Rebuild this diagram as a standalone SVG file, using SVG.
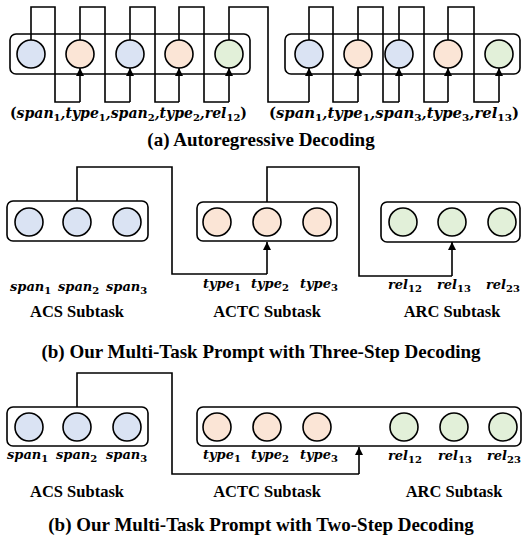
<svg xmlns="http://www.w3.org/2000/svg" width="522" height="540" viewBox="0 0 522 540">
<defs>
<marker id="arr" viewBox="0 0 8 8" refX="8" refY="4" markerWidth="8" markerHeight="8" orient="auto" markerUnits="userSpaceOnUse">
<path d="M0,0 L8,4 L0,8 z" fill="#000"/>
</marker>
<style>
.box{fill:#fff;stroke:#000;stroke-width:1.6}
.blue{fill:#dae3f3;stroke:#000;stroke-width:1.6}
.org{fill:#fbe5d6;stroke:#000;stroke-width:1.6}
.grn{fill:#e2f0d9;stroke:#000;stroke-width:1.6}
.w{fill:none;stroke:#000;stroke-width:1.6}
.wa{fill:none;stroke:#000;stroke-width:1.6;marker-end:url(#arr)}
.m{font-family:"DejaVu Serif","Liberation Serif",serif;font-weight:bold;font-style:italic;font-size:14px}
.l{font-family:"DejaVu Serif","Liberation Serif",serif;font-weight:bold;font-style:italic;font-size:13px}
.p{font-style:normal}
.s{font-size:10px;font-style:normal}
.t{font-family:"Liberation Serif","Times New Roman",serif;font-weight:bold;font-size:16.5px;text-anchor:middle}
.h{font-family:"Liberation Serif","Times New Roman",serif;font-weight:bold;font-size:19px;text-anchor:middle}
</style>
</defs>
<rect width="522" height="540" fill="#fff"/>

<g id="connectors-a">
<path class="w" d="M31,40 V7 H55 V102 H80"/>
<path class="wa" d="M80,102 V68"/>
<path class="w" d="M80,40 V7 H105 V102 H130"/>
<path class="wa" d="M130,102 V68"/>
<path class="w" d="M130,40 V7 H155 V102 H179"/>
<path class="wa" d="M179,102 V68"/>
<path class="w" d="M179,40 V7 H204 V102 H229"/>
<path class="wa" d="M229,102 V68"/>
<path class="w" d="M229,40 V7 H268 V102 H309"/>
<path class="wa" d="M309,102 V68"/>
<path class="w" d="M309,40 V7 H333 V102 H358"/>
<path class="wa" d="M358,102 V68"/>
<path class="w" d="M358,40 V7 H383 V102 H399"/>
<path class="wa" d="M399,102 V68"/>
<path class="w" d="M399,40 V7 H424 V102 H448"/>
<path class="wa" d="M448,102 V68"/>
<path class="w" d="M448,40 V7 H474 V102 H499"/>
<path class="wa" d="M499,102 V68"/>
</g>

<g id="seq1">
<rect x="10" y="34" width="240" height="40" rx="6" fill="none" stroke="#000" stroke-width="1.6"/>
<circle class="blue" cx="31" cy="54" r="14"/>
<circle class="org" cx="80" cy="54" r="14"/>
<circle class="blue" cx="130" cy="54" r="14"/>
<circle class="org" cx="179" cy="54" r="14"/>
<circle class="grn" cx="229" cy="54" r="14"/>
</g>
<g id="seq2">
<rect x="285" y="34" width="235" height="40" rx="6" fill="none" stroke="#000" stroke-width="1.6"/>
<circle class="blue" cx="309" cy="54" r="14"/>
<circle class="org" cx="358" cy="54" r="14"/>
<circle class="blue" cx="399" cy="54" r="14"/>
<circle class="org" cx="448" cy="54" r="14"/>
<circle class="grn" cx="499" cy="54" r="14"/>
</g>

<text class="m" x="10" y="118" textLength="237" lengthAdjust="spacingAndGlyphs"><tspan class="p">(</tspan>span<tspan class="s" dy="3">1</tspan><tspan dy="-3">,type</tspan><tspan class="s" dy="3">1</tspan><tspan dy="-3">,span</tspan><tspan class="s" dy="3">2</tspan><tspan dy="-3">,type</tspan><tspan class="s" dy="3">2</tspan><tspan dy="-3">,rel</tspan><tspan class="s" dy="3">12</tspan><tspan class="p" dy="-3">)</tspan></text>
<text class="m" x="269" y="118" textLength="250" lengthAdjust="spacingAndGlyphs"><tspan class="p">(</tspan>span<tspan class="s" dy="3">1</tspan><tspan dy="-3">,type</tspan><tspan class="s" dy="3">1</tspan><tspan dy="-3">,span</tspan><tspan class="s" dy="3">3</tspan><tspan dy="-3">,type</tspan><tspan class="s" dy="3">3</tspan><tspan dy="-3">,rel</tspan><tspan class="s" dy="3">13</tspan><tspan class="p" dy="-3">)</tspan></text>
<text class="h" x="261" y="146">(a) Autoregressive Decoding</text>

<g id="connectors-b">
<path class="w" d="M77,201 V167 H172 V274 H267"/>
<path class="wa" d="M267,274 V242"/>
<path class="w" d="M267,202 V167 H359 V276 H452"/>
<path class="wa" d="M452,276 V242"/>
</g>
<g id="acs-b">
<rect class="box" x="7" y="201" width="141" height="40" rx="6"/>
<circle class="blue" cx="29" cy="222" r="14"/>
<circle class="blue" cx="77" cy="222" r="14"/>
<circle class="blue" cx="127" cy="222" r="14"/>
</g>
<g id="actc-b">
<rect class="box" x="197" y="202" width="140" height="39" rx="6"/>
<circle class="org" cx="217" cy="222" r="14"/>
<circle class="org" cx="267" cy="222" r="14"/>
<circle class="org" cx="317" cy="222" r="14"/>
</g>
<g id="arc-b">
<rect class="box" x="381" y="202" width="139" height="40" rx="6"/>
<circle class="grn" cx="403" cy="222" r="14"/>
<circle class="grn" cx="452" cy="222" r="14"/>
<circle class="grn" cx="502" cy="222" r="14"/>
</g>
<text class="l" x="10" y="291">span<tspan class="s" dy="3">1</tspan></text>
<text class="l" x="58" y="291">span<tspan class="s" dy="3">2</tspan></text>
<text class="l" x="106" y="291">span<tspan class="s" dy="3">3</tspan></text>
<text class="l" x="203" y="288">type<tspan class="s" dy="3">1</tspan></text>
<text class="l" x="251" y="288">type<tspan class="s" dy="3">2</tspan></text>
<text class="l" x="300" y="288">type<tspan class="s" dy="3">3</tspan></text>
<text class="l" x="388" y="289">rel<tspan class="s" dy="3">12</tspan></text>
<text class="l" x="437" y="289">rel<tspan class="s" dy="3">13</tspan></text>
<text class="l" x="486" y="289">rel<tspan class="s" dy="3">23</tspan></text>
<text class="t" x="77" y="317">ACS Subtask</text>
<text class="t" x="267" y="317">ACTC Subtask</text>
<text class="t" x="452" y="317">ARC Subtask</text>
<text class="h" x="261" y="358">(b) Our Multi-Task Prompt with Three-Step Decoding</text>

<g id="connectors-c">
<path class="w" d="M77,407 V373 H172 V474 H359"/>
<path class="wa" d="M359,474 V447"/>
</g>
<g id="acs-c">
<rect class="box" x="7" y="407" width="141" height="39" rx="6"/>
<circle class="blue" cx="29" cy="427" r="14"/>
<circle class="blue" cx="77" cy="427" r="14"/>
<circle class="blue" cx="127" cy="427" r="14"/>
</g>
<g id="actc-arc-c">
<rect class="box" x="197" y="407" width="324" height="39" rx="6"/>
<circle class="org" cx="217" cy="427" r="14"/>
<circle class="org" cx="267" cy="427" r="14"/>
<circle class="org" cx="317" cy="427" r="14"/>
<circle class="grn" cx="404" cy="427" r="14"/>
<circle class="grn" cx="454" cy="427" r="14"/>
<circle class="grn" cx="503" cy="427" r="14"/>
</g>
<text class="l" x="7" y="459">span<tspan class="s" dy="3">1</tspan></text>
<text class="l" x="56" y="459">span<tspan class="s" dy="3">2</tspan></text>
<text class="l" x="106" y="459">span<tspan class="s" dy="3">3</tspan></text>
<text class="l" x="203" y="459">type<tspan class="s" dy="3">1</tspan></text>
<text class="l" x="251" y="459">type<tspan class="s" dy="3">2</tspan></text>
<text class="l" x="300" y="459">type<tspan class="s" dy="3">3</tspan></text>
<text class="l" x="388" y="460">rel<tspan class="s" dy="3">12</tspan></text>
<text class="l" x="438" y="460">rel<tspan class="s" dy="3">13</tspan></text>
<text class="l" x="487" y="460">rel<tspan class="s" dy="3">23</tspan></text>
<text class="t" x="77" y="497">ACS Subtask</text>
<text class="t" x="267" y="497">ACTC Subtask</text>
<text class="t" x="454" y="497">ARC Subtask</text>
<text class="h" x="261" y="531">(b) Our Multi-Task Prompt with Two-Step Decoding</text>
</svg>
